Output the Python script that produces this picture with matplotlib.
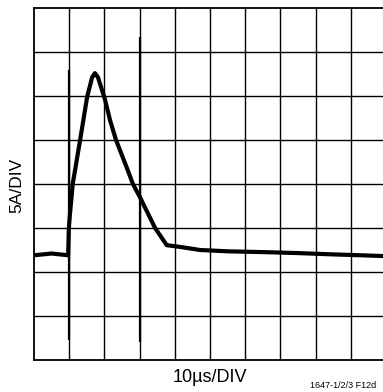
import matplotlib
matplotlib.use("Agg")
import matplotlib.pyplot as plt
import numpy as np

# Trace, in divisions (x: 10us/div, y: 5A/div)
trace_x = [0.0, 0.5, 0.97, 0.99, 1.02, 1.10, 1.31, 1.51, 1.65, 1.73, 1.82,
           2.02, 2.16, 2.33, 2.67, 2.81, 3.01, 3.44, 3.77, 4.15, 4.72,
           5.5, 6.62, 7.5, 8.49, 9.3, 10.0]
trace_y = [2.38, 2.42, 2.38, 3.0, 3.3, 4.0, 5.0, 5.98, 6.42, 6.52, 6.42,
           5.91, 5.45, 5.0, 4.3, 4.0, 3.70, 3.0, 2.61, 2.57, 2.50,
           2.47, 2.45, 2.43, 2.40, 2.38, 2.36]

# switching spikes (x position, bottom, top) in divisions
spike_x = [1.0, 3.0]
spike_lo = [0.45, 0.42]
spike_hi = [6.58, 7.35]

n_xdiv, n_ydiv = 10, 8

W, H = 383, 392
fig = plt.figure(figsize=(W / 100, H / 100), dpi=100)
ax = fig.add_axes([34 / W, 32 / H, 352 / W, 352 / H])

ax.set_xlim(0, n_xdiv)
ax.set_ylim(0, n_ydiv)
for i in range(1, n_xdiv):
    ax.axvline(i, color="black", lw=1.0, zorder=1)
for j in range(1, n_ydiv):
    ax.axhline(j, color="black", lw=1.0, zorder=1)
for s in ax.spines.values():
    s.set_linewidth(1.3)
ax.set_xticks([])
ax.set_yticks([])

ax.vlines(spike_x, spike_lo, spike_hi, color="black", lw=1.6, zorder=2)
ax.plot(trace_x, trace_y, color="black", lw=3.0, solid_joinstyle="round", zorder=3)

font = ["Liberation Sans Narrow", "Liberation Sans", "DejaVu Sans"]
fig.text(17 / W, 1 - 185 / H, "5A/DIV", rotation=90, ha="center", va="center",
         fontsize=12.5, family=font)
fig.text(210 / W, 1 - 378 / H, "10\u00b5s/DIV", ha="center", va="center",
         fontsize=13, family=font)
fig.text(310 / W, 1 - 385 / H, "1647-1/2/3 F12d", ha="left", va="center",
         fontsize=6.5, family=font)

fig.savefig("out.png", dpi=100)
